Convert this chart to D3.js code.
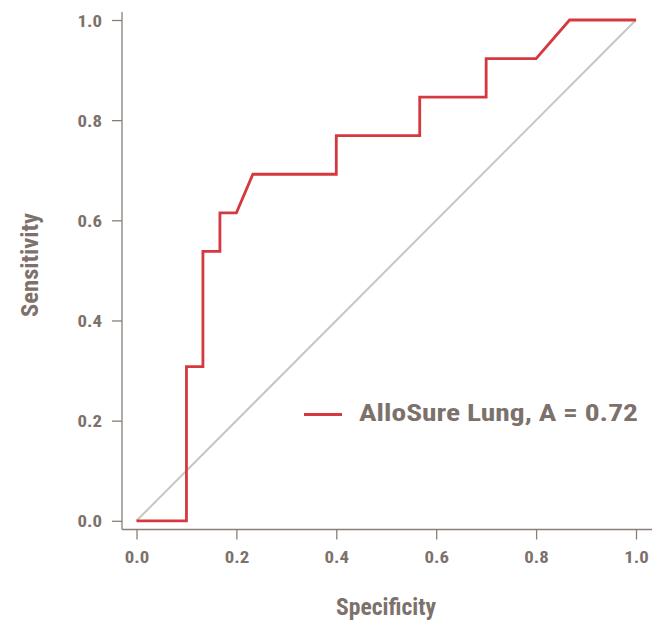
<!DOCTYPE html>
<html><head><meta charset="utf-8">
<script src="https://cdn.jsdelivr.net/npm/d3@7"></script>
<style>
body{margin:0;background:#fff;}
text{font-family:"Liberation Sans Narrow","Roboto Condensed","Arial Narrow",sans-serif;font-weight:bold;fill:#7d716b;}
</style></head>
<body>
<svg id="chart" width="654" height="624"></svg>
<script>
// ROC curve data (specificity axis value, sensitivity)
const specificity = [0, 0.1, 0.1, 0.133, 0.133, 0.167, 0.167, 0.2, 0.233, 0.4, 0.4, 0.567, 0.567, 0.7, 0.7, 0.8, 0.867, 1.0];
const sensitivity = [0, 0, 0.308, 0.308, 0.538, 0.538, 0.615, 0.615, 0.692, 0.692, 0.769, 0.769, 0.846, 0.846, 0.923, 0.923, 1.0, 1.0];
const refLine = [[0, 0], [1, 1]];
const xTicks = [0, 0.2, 0.4, 0.6, 0.8, 1.0];
const yTicks = [0, 0.2, 0.4, 0.6, 0.8, 1.0];
const legendLabel = "AlloSure Lung, A = 0.72";
const xTitle = "Specificity";
const yTitle = "Sensitivity";

const svg = d3.select("#chart");
const axisColor = "#8a7e78";
const textColor = "#7d716b";
const x = d3.scaleLinear().domain([0, 1]).range([136.5, 636]);
const y = d3.scaleLinear().domain([0, 1]).range([520.8, 20]);

// axes lines
const axisLeftX = 122, axisBottomY = 529.5;
svg.append("line").attr("x1", axisLeftX).attr("x2", axisLeftX).attr("y1", 12).attr("y2", axisBottomY)
  .attr("stroke", axisColor).attr("stroke-width", 1.3);
svg.append("line").attr("x1", axisLeftX).attr("x2", 652).attr("y1", axisBottomY).attr("y2", axisBottomY)
  .attr("stroke", axisColor).attr("stroke-width", 1.3);

function styleTickText(sel) {
  sel.attr("font-size", 16).attr("fill", textColor)
    .attr("textLength", 24.5).attr("lengthAdjust", "spacingAndGlyphs")
    .style("font-family", '"Liberation Sans Narrow","Roboto Condensed",sans-serif').style("font-weight", "bold");
}

// x axis
const gx = svg.append("g").attr("transform", `translate(0,${axisBottomY})`)
  .call(d3.axisBottom(x).tickValues(xTicks).tickFormat(d3.format(".1f")).tickSize(10).tickPadding(21));
gx.select(".domain").remove();
gx.selectAll(".tick line").attr("stroke", axisColor).attr("stroke-width", 1.3);
gx.selectAll(".tick text").attr("dy", null).attr("y", 33).call(styleTickText);

// y axis
const gy = svg.append("g").attr("transform", `translate(${axisLeftX},0)`)
  .call(d3.axisLeft(y).tickValues(yTicks).tickFormat(d3.format(".1f")).tickSize(10).tickPadding(20));
gy.select(".domain").remove();
gy.selectAll(".tick line").attr("stroke", axisColor).attr("stroke-width", 1.3);
gy.selectAll(".tick text").attr("dy", null).attr("y", 6).attr("x", -20).call(styleTickText);

// reference diagonal
svg.append("path").datum(refLine)
  .attr("d", d3.line().x(d => x(d[0])).y(d => y(d[1])))
  .attr("fill", "none").attr("stroke", "#c6c6c6").attr("stroke-width", 2);

// ROC curve
const pts = specificity.map((s, i) => [s, sensitivity[i]]);
svg.append("path").datum(pts)
  .attr("d", d3.line().x(d => x(d[0])).y(d => y(d[1])))
  .attr("fill", "none").attr("stroke", "#d5383e").attr("stroke-width", 2.8)
  .attr("stroke-linejoin", "miter");

// legend
svg.append("line").attr("x1", 304).attr("x2", 342).attr("y1", 414.5).attr("y2", 414.5)
  .attr("stroke", "#d5383e").attr("stroke-width", 2.8);
svg.append("text").attr("x", 359).attr("y", 421).attr("font-size", 24.5)
  .attr("textLength", 279).attr("lengthAdjust", "spacingAndGlyphs").text(legendLabel);

// axis titles
svg.append("text").attr("x", 386).attr("y", 615).attr("text-anchor", "middle").attr("font-size", 23)
  .attr("textLength", 100).attr("lengthAdjust", "spacingAndGlyphs").text(xTitle);
svg.append("text").attr("transform", "translate(37.5,265) rotate(-90)").attr("text-anchor", "middle")
  .attr("font-size", 23).attr("textLength", 104).attr("lengthAdjust", "spacingAndGlyphs").text(yTitle);
</script>
</body></html>
